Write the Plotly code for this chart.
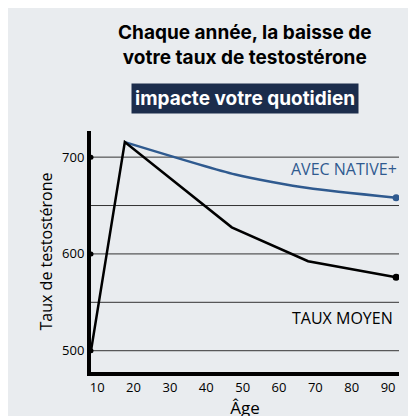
import plotly.graph_objects as go

# data
age_moyen = [8.3, 17.6, 47, 68, 92.2]
taux_moyen = [500, 715.5, 627.5, 592.5, 576]
age_native = [17.6, 48, 68, 92.2]
taux_native = [715.5, 682, 668, 658]
x_ticks = [10, 20, 30, 40, 50, 60, 70, 80, 90]
y_ticks = [500, 600, 700]

navy = "#2f5a8f"
bg = "#e9ecef"

fig = go.Figure()
fig.add_trace(go.Scatter(x=age_native, y=taux_native, mode="lines",
                         line=dict(color=navy, width=2.5, shape="spline", smoothing=0.6)))
fig.add_trace(go.Scatter(x=age_native[-1:], y=taux_native[-1:], mode="markers",
                         marker=dict(color=navy, size=7)))
fig.add_trace(go.Scatter(x=age_moyen, y=taux_moyen, mode="lines",
                         line=dict(color="black", width=2.5)))
fig.add_trace(go.Scatter(x=[age_moyen[-1]], y=[taux_moyen[-1]], mode="markers",
                         marker=dict(color="black", size=7)))
fig.add_trace(go.Scatter(x=[8.3, 8.3, 8.3], y=y_ticks, mode="markers",
                         marker=dict(color="black", size=5), cliponaxis=False))

# gridlines drawn as shapes so they stop at the plot edge
for g in [500, 550, 600, 650, 700]:
    fig.add_shape(type="line", xref="x", yref="y", x0=8.3, x1=93, y0=g, y1=g,
                  line=dict(color="#333", width=1), layer="below")

fig.add_annotation(x=93, y=688, text="AVEC NATIVE+", showarrow=False, xanchor="right",
                   font=dict(size=16, color=navy, family="Open Sans"))
fig.add_annotation(x=92, y=534, text="TAUX MOYEN", showarrow=False, xanchor="right",
                   font=dict(size=16, color="black", family="Open Sans"))

# title with highlighted last line
fig.add_annotation(xref="paper", yref="paper", x=0.5, y=1.25, showarrow=False,
                   text="<b>Chaque année, la baisse de<br>votre taux de testostérone</b>",
                   font=dict(size=19, color="black", family="Inter"), yanchor="bottom",
                   xanchor="center")
fig.add_annotation(xref="paper", yref="paper", x=0.5, y=1.133, showarrow=False,
                   text="<b>impacte votre quotidien</b>", bgcolor="#1c2d4c",
                   font=dict(size=19, color="white", family="Inter"), yanchor="middle",
                   xanchor="center", borderpad=3)

fig.update_layout(
    width=416, height=416, showlegend=False,
    paper_bgcolor=bg, plot_bgcolor=bg,
    margin=dict(l=83, r=25, t=123, b=52, autoexpand=False),
    font=dict(family="Open Sans", color="black"),
)
fig.update_xaxes(range=[8.3, 93], tickvals=x_ticks, showgrid=False, zeroline=False,
                 showline=True, linecolor="black", linewidth=4, ticks="", automargin=False,
                 tickfont=dict(size=13), title=dict(text="Âge", font=dict(size=17), standoff=4))
fig.update_yaxes(range=[478, 727], tickvals=y_ticks, showgrid=False, zeroline=False,
                 showline=True, linecolor="black", linewidth=4, ticks="", automargin=False,
                 tickfont=dict(size=13), title=dict(text="Taux de testostérone", font=dict(size=16), standoff=6))

fig.write_html("out.html")
